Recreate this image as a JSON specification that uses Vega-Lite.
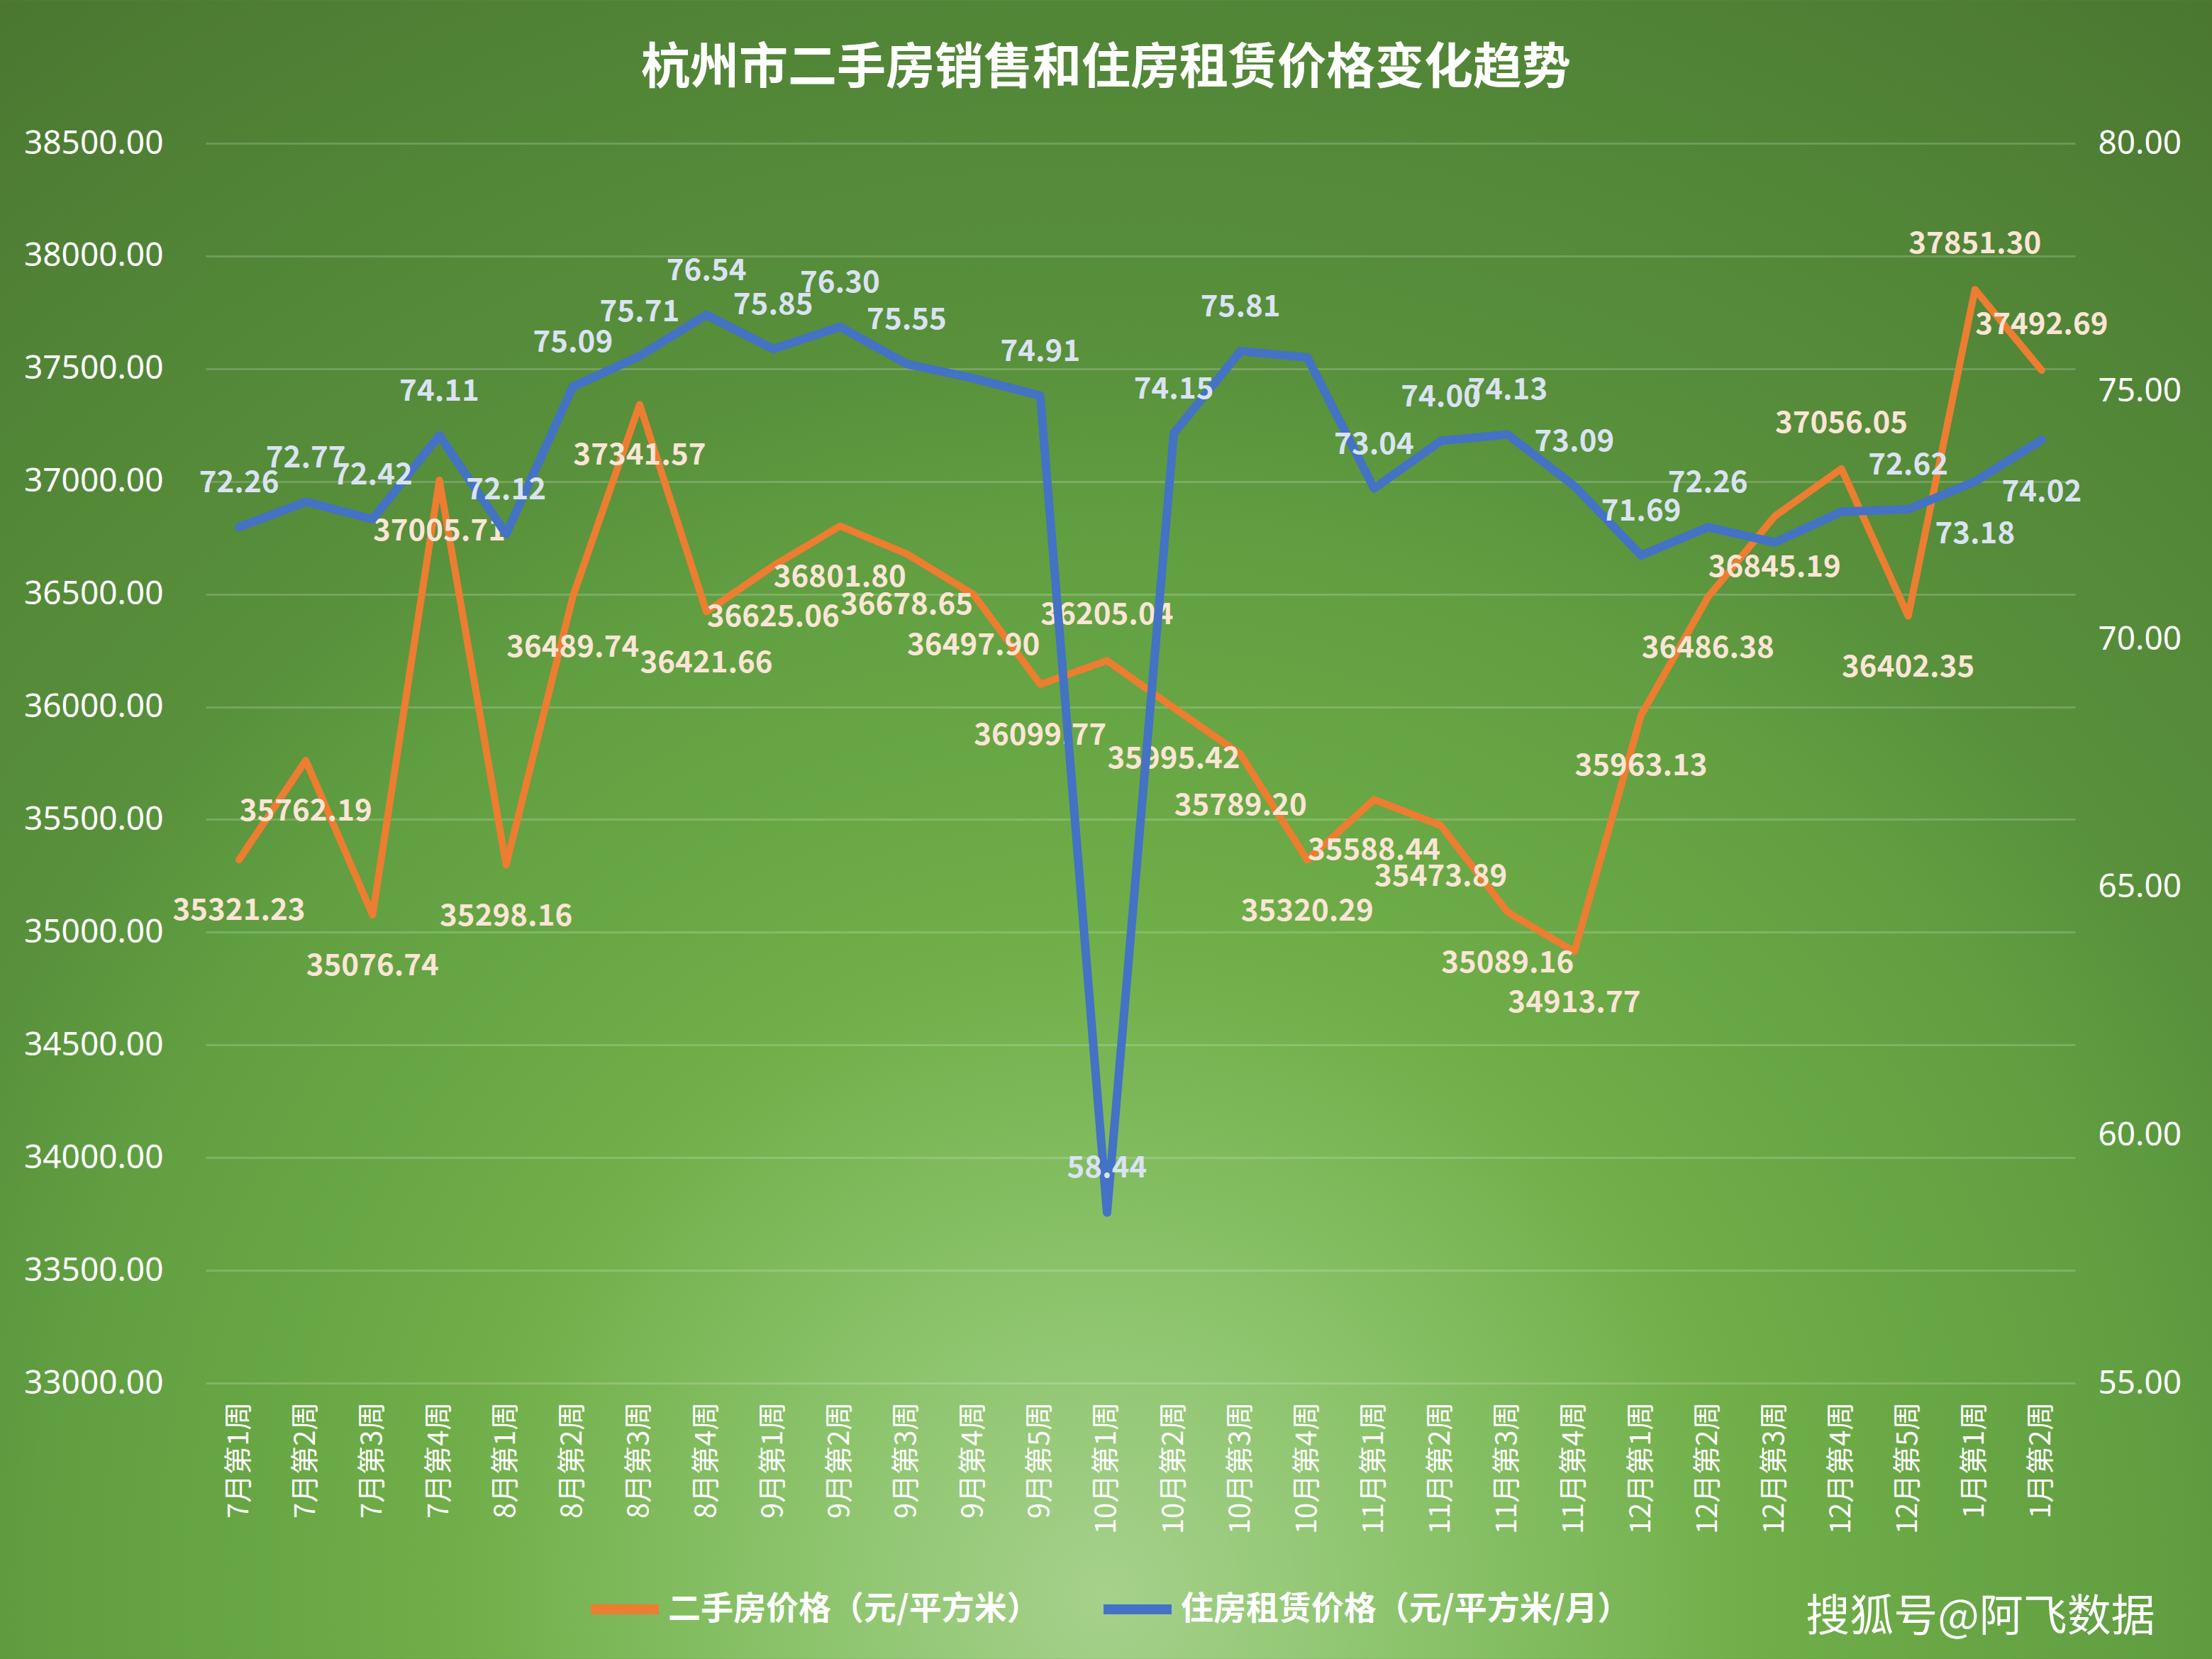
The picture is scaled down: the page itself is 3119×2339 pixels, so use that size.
{
  "$schema": "https://vega.github.io/schema/vega-lite/v6.json",
  "width": 3119,
  "height": 2339,
  "autosize": {"type": "none"},
  "padding": 0,
  "background": "#5a8c3b",
  "view": {
    "stroke": null,
    "fill": {
      "gradient": "radial",
      "x1": 0.5, "y1": 0.846, "r1": 0,
      "x2": 0.5, "y2": 0.846, "r2": 0.9,
      "stops": [
        {"offset": 0, "color": "#a6d18c"},
        {"offset": 0.15, "color": "#8cc46c"},
        {"offset": 0.33, "color": "#6fae48"},
        {"offset": 0.54, "color": "#609e41"},
        {"offset": 0.63, "color": "#58903b"},
        {"offset": 0.79, "color": "#528637"},
        {"offset": 1, "color": "#4a7530"}
      ]
    }
  },
  "title": {
    "text": "杭州市二手房销售和住房租赁价格变化趋势",
    "font": "Noto Sans CJK SC",
    "fontSize": 69,
    "fontWeight": "bold",
    "color": "#ffffff",
    "anchor": "middle",
    "offset": -132
  },
  "data": {
    "values": [
      {"week": "7月第1周", "sale": 35321.23, "rent": 72.26},
      {"week": "7月第2周", "sale": 35762.19, "rent": 72.77},
      {"week": "7月第3周", "sale": 35076.74, "rent": 72.42},
      {"week": "7月第4周", "sale": 37005.71, "rent": 74.11},
      {"week": "8月第1周", "sale": 35298.16, "rent": 72.12},
      {"week": "8月第2周", "sale": 36489.74, "rent": 75.09},
      {"week": "8月第3周", "sale": 37341.57, "rent": 75.71},
      {"week": "8月第4周", "sale": 36421.66, "rent": 76.54},
      {"week": "9月第1周", "sale": 36625.06, "rent": 75.85},
      {"week": "9月第2周", "sale": 36801.80, "rent": 76.30},
      {"week": "9月第3周", "sale": 36678.65, "rent": 75.55},
      {"week": "9月第4周", "sale": 36497.90, "rent": 75.26},
      {"week": "9月第5周", "sale": 36099.77, "rent": 74.91},
      {"week": "10月第1周", "sale": 36205.04, "rent": 58.44},
      {"week": "10月第2周", "sale": 35995.42, "rent": 74.15},
      {"week": "10月第3周", "sale": 35789.20, "rent": 75.81},
      {"week": "10月第4周", "sale": 35320.29, "rent": 75.68},
      {"week": "11月第1周", "sale": 35588.44, "rent": 73.04},
      {"week": "11月第2周", "sale": 35473.89, "rent": 74.00},
      {"week": "11月第3周", "sale": 35089.16, "rent": 74.13},
      {"week": "11月第4周", "sale": 34913.77, "rent": 73.09},
      {"week": "12月第1周", "sale": 35963.13, "rent": 71.69},
      {"week": "12月第2周", "sale": 36486.38, "rent": 72.26},
      {"week": "12月第3周", "sale": 36845.19, "rent": 71.95},
      {"week": "12月第4周", "sale": 37056.05, "rent": 72.57},
      {"week": "12月第5周", "sale": 36402.35, "rent": 72.62},
      {"week": "1月第1周", "sale": 37851.30, "rent": 73.18},
      {"week": "1月第2周", "sale": 37492.69, "rent": 74.02}
    ]
  },
  "layer": [
    {
      "encoding": {
        "x": {
          "field": "week", "type": "ordinal", "sort": null,
          "scale": {"type": "point", "range": [290, 2926], "padding": 0.5},
          "axis": {
            "offset": -389,
            "labelAngle": -90,
            "labelFont": "Noto Sans CJK SC",
            "labelFontSize": 40,
            "labelColor": "#ffffff",
            "labelPadding": 26,
            "labelLimit": 500,
            "ticks": false,
            "domain": false,
            "grid": false,
            "title": "搜狐号@阿飞数据",
            "titleFont": "Noto Sans CJK SC",
            "titleFontSize": 62,
            "titleFontWeight": "normal",
            "titleColor": "#ffffff",
            "titleX": 2792,
            "titleY": 330,
            "titleAlign": "center",
            "titleBaseline": "middle",
            "titleAngle": 0
          }
        },
        "y": {
          "field": "sale", "type": "quantitative",
          "scale": {"domain": [33000, 38500], "range": [1950, 202], "nice": false, "zero": false}
        }
      },
      "layer": [
        {
          "mark": {"type": "line", "color": "#ed7d31", "strokeWidth": 10, "strokeCap": "round", "strokeJoin": "round"},
          "encoding": {
            "color": {
              "datum": "二手房价格（元/平方米）",
              "scale": {"domain": ["二手房价格（元/平方米）", "住房租赁价格（元/平方米/月）"], "range": ["#ed7d31", "#4472c4"]},
              "legend": {
                "orient": "none",
                "legendX": 826,
                "legendY": 2214,
                "direction": "horizontal",
                "title": null,
                "symbolType": "stroke",
                "symbolSize": 9216,
                "symbolStrokeWidth": 14,
                "labelFont": "Noto Sans CJK SC",
                "labelFontSize": 46,
                "labelFontWeight": "bold",
                "labelColor": "#ffffff",
                "labelOffset": 6,
                "columnPadding": 62,
                "labelLimit": 1000
              }
            },
            "y": {
              "field": "sale", "type": "quantitative",
              "axis": {
                "orient": "left",
                "offset": -290,
                "values": [33000, 33500, 34000, 34500, 35000, 35500, 36000, 36500, 37000, 37500, 38000, 38500],
                "format": ".2f",
                "labelFont": "Noto Sans",
                "labelFontSize": 46,
                "labelColor": "#ffffff",
                "labelPadding": 60,
                "labelLimit": 500,
                "ticks": false,
                "domain": false,
                "grid": true,
                "gridColor": "#ffffff",
                "gridOpacity": 0.18,
                "gridWidth": 3,
                "title": null
              }
            }
          }
        },
        {
          "transform": [{"filter": "indexof(['10月第1周','12月第4周','1月第1周','1月第2周'], datum.week) < 0"}],
          "mark": {"type": "text", "font": "Noto Sans CJK SC", "fontSize": 42, "fontWeight": "bold", "color": "#fbe5d6", "baseline": "middle", "align": "center", "dy": 72},
          "encoding": {"text": {"field": "sale", "type": "quantitative", "format": ".2f"}}
        },
        {
          "transform": [{"filter": "indexof(['10月第1周','12月第4周','1月第1周','1月第2周'], datum.week) >= 0"}],
          "mark": {"type": "text", "font": "Noto Sans CJK SC", "fontSize": 42, "fontWeight": "bold", "color": "#fbe5d6", "baseline": "middle", "align": "center", "dy": -64},
          "encoding": {"text": {"field": "sale", "type": "quantitative", "format": ".2f"}}
        }
      ]
    },
    {
      "encoding": {
        "x": {"field": "week", "type": "ordinal", "sort": null},
        "y": {
          "field": "rent", "type": "quantitative",
          "scale": {"domain": [55, 80], "range": [1950, 202], "nice": false, "zero": false}
        }
      },
      "layer": [
        {
          "mark": {"type": "line", "color": "#4472c4", "strokeWidth": 12, "strokeCap": "round", "strokeJoin": "round"},
          "encoding": {
            "color": {"datum": "住房租赁价格（元/平方米/月）"},
            "y": {
              "field": "rent", "type": "quantitative",
              "axis": {
                "orient": "right",
                "offset": -193,
                "values": [55, 60, 65, 70, 75, 80],
                "format": ".2f",
                "labelFont": "Noto Sans",
                "labelFontSize": 46,
                "labelColor": "#ffffff",
                "labelPadding": 32,
                "ticks": false,
                "domain": false,
                "grid": false,
                "title": null
              }
            }
          }
        },
        {
          "transform": [{"filter": "indexof(['9月第4周','10月第4周','12月第3周','12月第4周','1月第1周','1月第2周'], datum.week) < 0"}],
          "mark": {"type": "text", "font": "Noto Sans CJK SC", "fontSize": 42, "fontWeight": "bold", "color": "#dae3f3", "baseline": "middle", "align": "center", "dy": -62},
          "encoding": {"text": {"field": "rent", "type": "quantitative", "format": ".2f"}}
        },
        {
          "transform": [{"filter": "indexof(['1月第1周','1月第2周'], datum.week) >= 0"}],
          "mark": {"type": "text", "font": "Noto Sans CJK SC", "fontSize": 42, "fontWeight": "bold", "color": "#dae3f3", "baseline": "middle", "align": "center", "dy": 74},
          "encoding": {"text": {"field": "rent", "type": "quantitative", "format": ".2f"}}
        }
      ]
    }
  ],
  "resolve": {"scale": {"y": "independent"}}
}
